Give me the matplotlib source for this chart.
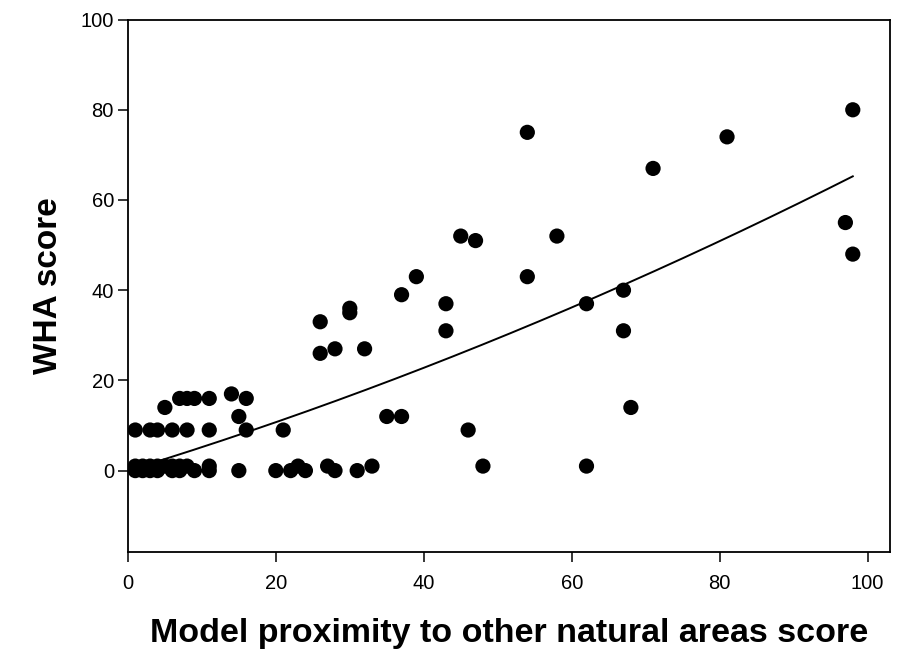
import numpy as np
import matplotlib
matplotlib.use("Agg")
from matplotlib import pyplot as plt

plt.rcParams['font.family'] = ['Liberation Sans', 'DejaVu Sans']

# proximity score vs WHA score for each site
proximity = [1, 1, 2, 2, 3, 3, 4, 4, 5, 6, 6, 7, 7, 8, 9, 11, 11,
             15, 20, 22, 23, 24, 27, 28, 31, 33, 48, 62,
             1, 3, 4, 6, 8, 11, 16, 21, 46,
             5, 7, 8, 9, 11, 14, 15, 16,
             35, 37, 68,
             26, 28, 32, 30, 30, 26,
             43, 37, 39, 43, 54, 45, 47, 58, 62, 67, 67,
             54, 71, 81, 98, 97, 98]
wha = [1, 0, 1, 0, 0, 1, 0, 1, 1, 0, 1, 0, 1, 1, 0, 0, 1,
       0, 0, 0, 1, 0, 1, 0, 0, 1, 1, 1,
       9, 9, 9, 9, 9, 9, 9, 9, 9,
       14, 16, 16, 16, 16, 17, 12, 16,
       12, 12, 14,
       26, 27, 27, 35, 36, 33,
       31, 39, 43, 37, 43, 52, 51, 52, 37, 40, 31,
       75, 67, 74, 80, 55, 48]

# fitted trend: y = b1*x + b2*x^2
fit_b0 = 0.0
fit_b1 = 0.5035
fit_b2 = 0.001656
fit_x = np.linspace(1, 98, 200)
fit_y = fit_b0 + fit_b1 * fit_x + fit_b2 * fit_x ** 2

fig = plt.figure(figsize=(9.07, 6.53), dpi=100)
ax = fig.add_axes([0.141, 0.155, 0.840, 0.815])

ax.scatter(proximity, wha, s=120, c='black', edgecolors='none', zorder=3)
ax.plot(fit_x, fit_y, color='black', lw=1.4, zorder=2)

ax.set_xlim(0, 103)
ax.set_ylim(-18, 100)
ax.set_xticks([0, 20, 40, 60, 80, 100])
ax.set_yticks([0, 20, 40, 60, 80, 100])
ax.tick_params(direction='out', length=7, width=1.1, labelsize=14.5)
ax.tick_params(axis='x', pad=9)
ax.tick_params(axis='y', pad=3)
for sp in ax.spines.values():
    sp.set_linewidth(1.3)

ax.set_xlabel('Model proximity to other natural areas score',
              fontsize=24.5, fontweight='bold', labelpad=18)
ax.set_ylabel('WHA score', fontsize=24, fontweight='bold', labelpad=12)

fig.savefig('out.png', dpi=100)
